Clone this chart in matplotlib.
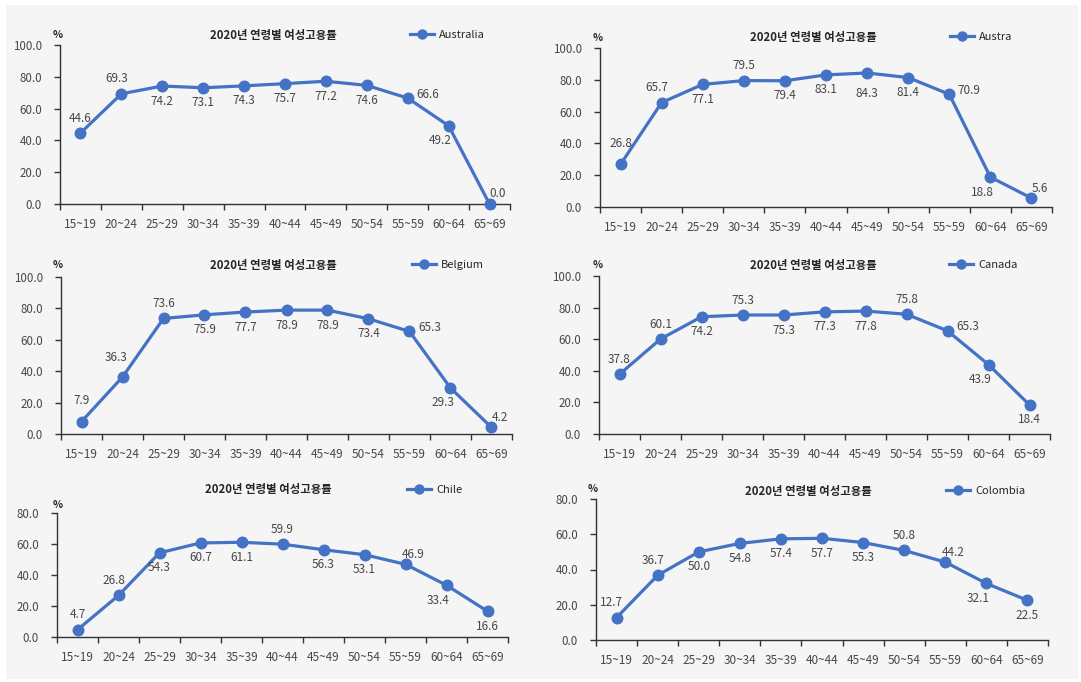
# -*- coding: utf-8 -*-
import numpy as np
import matplotlib
matplotlib.use('Agg')
import matplotlib.pyplot as plt
from matplotlib.patches import Rectangle

plt.rcParams['font.family'] = ['Noto Sans CJK KR', 'DejaVu Sans']

# age groups and female employment rate (%) by country, 2020
ages = ['15~19', '20~24', '25~29', '30~34', '35~39', '40~44',
        '45~49', '50~54', '55~59', '60~64', '65~69']
australia = [44.6, 69.3, 74.2, 73.1, 74.3, 75.7, 77.2, 74.6, 66.6, 49.2, 0.0]
austria = [26.8, 65.7, 77.1, 79.5, 79.4, 83.1, 84.3, 81.4, 70.9, 18.8, 5.6]
belgium = [7.9, 36.3, 73.6, 75.9, 77.7, 78.9, 78.9, 73.4, 65.3, 29.3, 4.2]
canada = [37.8, 60.1, 74.2, 75.3, 75.3, 77.3, 77.8, 75.8, 65.3, 43.9, 18.4]
chile = [4.7, 26.8, 54.3, 60.7, 61.1, 59.9, 56.3, 53.1, 46.9, 33.4, 16.6]
colombia = [12.7, 36.7, 50.0, 54.8, 57.4, 57.7, 55.3, 50.8, 44.2, 32.1, 22.5]

title = '2020년 연령별 여성고용률'
blue = '#4472C4'
text_col = '#474747'

# where each value label sits relative to its point (pixels)
offsets = {
    'a': (0, 15), 'a2': (0, 21), 'al': (-5, 15), 'al2': (-6, 20),
    'b': (0, -15), 'b2': (0, -21), 'r': (20, 4), 'bl': (-8, -15),
    'ar': (8, 10),
}

W, H = 1081, 682

def px_rect(x0, x1, ytop, ybot):
    return [x0 / W, 1 - ybot / H, (x1 - x0) / W, (ybot - ytop) / H]

def fx(x):
    return x / W

def fy(y):
    return 1 - y / H

panels = [
    # name, values, ymax, label places, axes box, title x/y, legend x, '%' x/y
    ('Australia', australia, 100,
     ['a', 'al', 'b', 'b', 'b', 'b', 'b', 'b', 'r', 'bl', 'ar'],
     (60, 510, 45, 204), (273, 35), 410, (58, 35)),
    ('Austra', austria, 100,
     ['a2', 'al', 'b', 'a', 'b', 'b', 'b2', 'b', 'r', 'bl', 'ar'],
     (600, 1052, 48, 207), (813, 37), 950, (598, 38)),
    ('Belgium', belgium, 100,
     ['a2', 'al2', 'a', 'b', 'b', 'b', 'b', 'b', 'r', 'bl', 'ar'],
     (61, 512, 277, 434), (273, 265), 412, (58, 265)),
    ('Canada', canada, 100,
     ['a', 'a', 'b', 'a', 'b', 'b', 'b', 'a', 'r', 'bl', 'b'],
     (599, 1050, 276, 434), (813, 265), 949, (598, 265)),
    ('Chile', chile, 80,
     ['a', 'al', 'b', 'b', 'b', 'a', 'b', 'b', 'ar', 'bl', 'b'],
     (57, 508, 513, 637), (268, 490), 407, (58, 505)),
    ('Colombia', colombia, 80,
     ['al', 'al', 'b', 'b', 'b', 'b', 'b', 'a', 'ar', 'bl', 'b'],
     (596, 1048, 499, 640), (808, 491), 946, (593, 489)),
]

fig = plt.figure(figsize=(W / 100, H / 100), dpi=100)
fig.patch.set_facecolor('white')
fig.patches.append(Rectangle((fx(6), fy(679)), fx(1078 - 6), (679 - 5) / H,
                             transform=fig.transFigure, facecolor='#f5f5f5',
                             edgecolor='none', zorder=-10))

x = np.arange(len(ages))

for name, values, ymax, places, box, tpos, leg_x, pct in panels:
    ax = fig.add_axes(px_rect(*box))
    ax.set_facecolor('none')
    ax.set_zorder(1)

    line, = ax.plot(x, values, color=blue, lw=2.3, marker='o', ms=7.6,
                    clip_on=False, zorder=3, label=name)

    for i, v in enumerate(values):
        ax.annotate('%.1f' % v, (i, v), xytext=offsets[places[i]],
                    textcoords='offset pixels', ha='center', va='center',
                    fontsize=8.5, color=text_col)

    ax.set_xlim(-0.5, len(ages) - 0.5)
    ax.set_ylim(0, ymax)

    # category labels at centers, tick marks at category borders
    ax.set_xticks(x)
    ax.set_xticklabels(ages, fontsize=8.5, color=text_col)
    ax.set_xticks(np.arange(-0.5, len(ages), 1), minor=True)
    ax.tick_params(axis='x', which='major', length=0, pad=10)
    ax.tick_params(axis='x', which='minor', length=4, width=1,
                   color='#333333', direction='out')

    yt = np.arange(0, ymax + 1, 20)
    ax.set_yticks(yt)
    ax.set_yticklabels(['%.1f' % t for t in yt], fontsize=8.3, color=text_col)
    ax.tick_params(axis='y', length=4, width=1, color='#333333', pad=9)

    for s in ['top', 'right']:
        ax.spines[s].set_visible(False)
    for s in ['left', 'bottom']:
        ax.spines[s].set_color('#333333')
        ax.spines[s].set_linewidth(1)

    # title, unit and legend
    fig.text(fx(tpos[0]), fy(tpos[1]), title, ha='center', va='center',
             fontsize=8.2, fontweight='bold', color='#262626')
    fig.text(fx(pct[0]), fy(pct[1]), '%', ha='center', va='center',
             fontsize=7.5, fontweight='bold', color='#262626')
    ax.legend(handles=[line], loc='center left',
              bbox_to_anchor=(fx(leg_x), fy(tpos[1])),
              bbox_transform=fig.transFigure, frameon=False,
              borderpad=0, borderaxespad=0, handlelength=2.2,
              handletextpad=0.4, markerscale=0.85, prop={'size': 8})
    for t in ax.get_legend().get_texts():
        t.set_color('#262626')

plt.savefig('out.png', dpi=100, facecolor=fig.get_facecolor())
plt.close(fig)
